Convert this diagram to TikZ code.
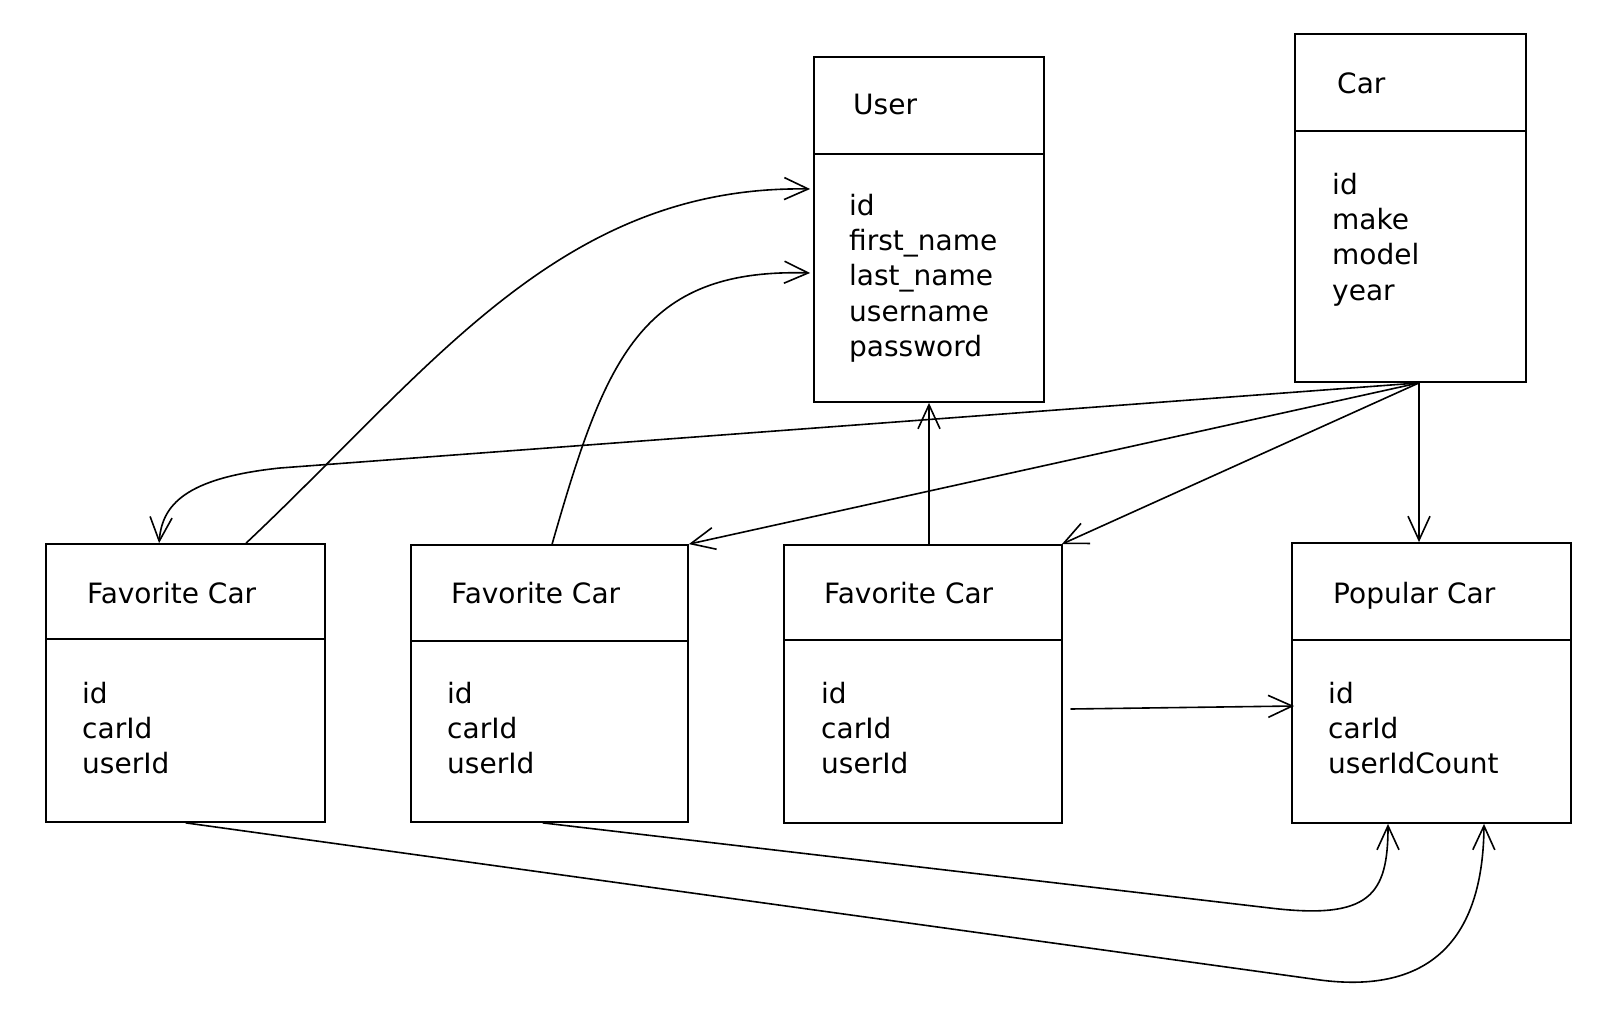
\documentclass[tikz,border=0pt]{standalone}
\usepackage{fontspec}
\setmainfont{DejaVu Sans}
\usetikzlibrary{arrows.meta,calc}
\begin{document}
\begin{tikzpicture}[x=1pt,y=-1pt,
  box/.style={draw, line width=1.8pt, rectangle, inner sep=0pt},
  txt/.style={anchor=base west, inner sep=0pt, font=\fontsize{28}{34}\selectfont},
  divider/.style={line width=1.8pt},
  conn/.style={line width=1.6pt, line cap=round, -{Straight Barb[length=24pt,width=22pt,line width=1.6pt]}}
]
\fill[white] (0,0) rectangle (1616,1024);
\useasboundingbox (0,0) rectangle (1616,1024);

% boxes
\node[box, minimum width=230pt, minimum height=345pt] (user) at (929,229.5) {};
\node[box, minimum width=231pt, minimum height=348pt] (car) at (1410.5,208) {};
\node[box, minimum width=279pt, minimum height=278pt] (fc1) at (185.5,683) {};
\node[box, minimum width=277pt, minimum height=277pt] (fc2) at (549.5,683.5) {};
\node[box, minimum width=278pt, minimum height=278pt] (fc3) at (923,684) {};
\node[box, minimum width=279pt, minimum height=280pt] (pop) at (1431.5,683) {};

% dividers
\draw[divider] ([yshift=-98pt]user.north west) -- ([yshift=-98pt]user.north east);
\draw[divider] ([yshift=-98pt]car.north west) -- ([yshift=-98pt]car.north east);
\draw[divider] ([yshift=-96pt]fc1.north west) -- ([yshift=-96pt]fc1.north east);
\draw[divider] ([yshift=-97pt]fc2.north west) -- ([yshift=-97pt]fc2.north east);
\draw[divider] ([yshift=-96pt]fc3.north west) -- ([yshift=-96pt]fc3.north east);
\draw[divider] ([yshift=-98pt]pop.north west) -- ([yshift=-98pt]pop.north east);

% texts: User
\node[txt] (usert) at (853,115) {User};
\node[txt] (userf1) at (849,216) {id};
\node[txt] (userf2) at (849,251) {first\_name};
\node[txt] (userf3) at (849,286) {last\_name};
\node[txt] (userf4) at (849,321) {username};
\node[txt] (userf5) at (849,356) {password};
% Car
\node[txt] (cart) at (1337,94) {Car};
\node[txt] (carf1) at (1332,195) {id};
\node[txt] (carf2) at (1332,230) {make};
\node[txt] (carf3) at (1332,265) {model};
\node[txt] (carf4) at (1332,300) {year};
% Favorite Car 1
\node[txt] (fc1t) at (87,603) {Favorite Car};
\node[txt] (fc1f1) at (82,703) {id};
\node[txt] (fc1f2) at (82,738) {carId};
\node[txt] (fc1f3) at (82,773) {userId};
% Favorite Car 2
\node[txt] (fc2t) at (451,603) {Favorite Car};
\node[txt] (fc2f1) at (447,703) {id};
\node[txt] (fc2f2) at (447,738) {carId};
\node[txt] (fc2f3) at (447,773) {userId};
% Favorite Car 3
\node[txt] (fc3t) at (824,603) {Favorite Car};
\node[txt] (fc3f1) at (821,703) {id};
\node[txt] (fc3f2) at (821,738) {carId};
\node[txt] (fc3f3) at (821,773) {userId};
% Popular Car
\node[txt] (popt) at (1333,603) {Popular Car};
\node[txt] (popf1) at (1328,703) {id};
\node[txt] (popf2) at (1328,738) {carId};
\node[txt] (popf3) at (1328,773) {userIdCount};

% connectors from Car
\draw[conn] ([xshift=8.5pt]car.south) -- (280,468) .. controls (185,478) and (162,505) .. ([xshift=114pt]fc1.north west);
\draw[conn] ([xshift=8.5pt]car.south) -- (fc2.north east);
\draw[conn] ([xshift=8.5pt]car.south) -- ([xshift=-1pt]fc3.north east);
\draw[conn] ([xshift=8.5pt]car.south) -- ([xshift=-12.5pt]pop.north);

% connectors to User
\draw[conn] ([xshift=201pt]fc1.north west) .. controls (430,370) and (560,185) .. ([xshift=-3pt,yshift=40.5pt]user.west);
\draw[conn] ([xshift=142pt]fc2.north west) .. controls (605,360) and (640,268) .. ([xshift=-3pt,yshift=-43.5pt]user.west);
\draw[conn] (fc3.north -| user.south) -- (user.south);

% connectors to Popular Car
\draw[conn] ([xshift=8pt,yshift=-25pt]fc3.east) -- ([xshift=3pt,yshift=-23pt]pop.west);
\draw[conn] ([xshift=-6.5pt]fc2.south) -- (1270,908) .. controls (1370,920) and (1388,895) .. ([xshift=-43.5pt]pop.south);
\draw[conn] ([xshift=0.5pt]fc1.south) -- (1320,980) .. controls (1420,993) and (1483,950) .. ([xshift=52.5pt]pop.south);
\end{tikzpicture}
\end{document}
